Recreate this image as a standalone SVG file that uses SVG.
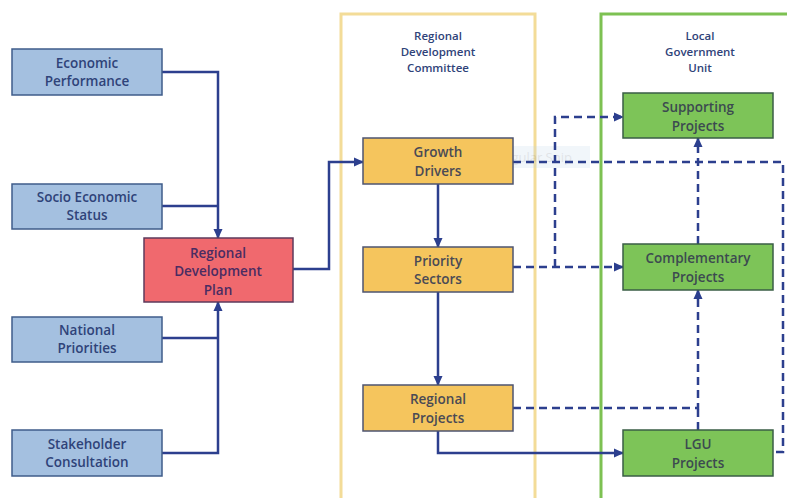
<svg xmlns="http://www.w3.org/2000/svg" width="787" height="498" viewBox="0 0 787 498">
  <style>
    .lbl { font-family: "Open Sans", "Liberation Sans", sans-serif; font-weight: 600; font-size: 13.5px; text-anchor: middle; }
    .title { font-family: "Open Sans", "Liberation Sans", sans-serif; font-weight: 600; font-size: 11.5px; text-anchor: middle; fill: #2F4379; }
    .input rect { fill: #A4C0E0; stroke: #3F5C8A; stroke-width: 1.5; }
    .input text { fill: #2F4379; }
    .plan rect { fill: #F0696E; stroke: #5E3A5C; stroke-width: 1.5; }
    .plan text { fill: #4A2C62; }
    .rdc rect { fill: #F5C55D; stroke: #4E5470; stroke-width: 1.5; }
    .rdc text { fill: #4A4A55; }
    .lgu rect { fill: #7DC458; stroke: #3A5E46; stroke-width: 1.5; }
    .lgu text { fill: #3C4A50; }
    .solid { fill: none; stroke: #2C3F8E; stroke-width: 2.5; }
    .dash { fill: none; stroke: #2C3F8E; stroke-width: 2.5; stroke-dasharray: 8 5; }
  </style>
  <defs>
    <marker id="arrow" markerUnits="userSpaceOnUse" markerWidth="10" markerHeight="10" viewBox="0 0 10 10" refX="9" refY="5" orient="auto">
      <path d="M0,0.5 L10,5 L0,9.5 Z" fill="#2C3F8E"/>
    </marker>
  </defs>

  <rect width="787" height="498" fill="#FFFFFF"/>

  <!-- swimlane containers -->
  <g id="lane-rdc">
    <rect x="341" y="14" width="194" height="500" fill="none" stroke="#F3DC98" stroke-width="3"/>
    <text class="title" x="438" y="40">Regional</text>
    <text class="title" x="438" y="56">Development</text>
    <text class="title" x="438" y="72">Committee</text>
  </g>
  <g id="lane-lgu">
    <rect x="601" y="14" width="200" height="500" fill="none" stroke="#7DC152" stroke-width="3"/>
    <text class="title" x="700" y="40">Local</text>
    <text class="title" x="700" y="56">Government</text>
    <text class="title" x="700" y="72">Unit</text>
  </g>

  <!-- faint translucent tooltip band across the growth row -->
  <g id="snip-tooltip" opacity="0.2">
    <rect x="395" y="146" width="195" height="22" fill="#BBD3EA"/>
    <text x="470" y="162" font-family="Open Sans, Liberation Sans, sans-serif" font-size="13" fill="#6A7A8A">Rectangular Snip</text>
  </g>

  <!-- connectors -->
  <g id="connectors">
    <path class="solid" d="M162,72 H218 V238" marker-end="url(#arrow)"/>
    <path class="solid" d="M162,206 H218"/>
    <path class="solid" d="M162,453 H218 V302" marker-end="url(#arrow)"/>
    <path class="solid" d="M162,338 H218"/>
    <path class="solid" d="M293,269 H329 V162 H363" marker-end="url(#arrow)"/>
    <path class="solid" d="M438,184 V247" marker-end="url(#arrow)"/>
    <path class="solid" d="M438,292 V385" marker-end="url(#arrow)"/>
    <path class="solid" d="M438,431 V453 H623" marker-end="url(#arrow)"/>

    <path class="dash" d="M513,162 H783 V452 H773"/>
    <path class="dash" d="M513,267 H623" marker-end="url(#arrow)"/>
    <path class="dash" d="M555,267 V117 H623" marker-end="url(#arrow)"/>
    <path class="dash" d="M513,408 H698 V290" marker-end="url(#arrow)"/>
    <path class="dash" d="M698,430 V408"/>
    <path class="dash" d="M698,244 V138" marker-end="url(#arrow)"/>
  </g>

  <!-- inputs -->
  <g id="economic-performance" class="input">
    <rect x="12" y="49" width="150" height="46"/>
    <text class="lbl" x="87" y="68">Economic</text>
    <text class="lbl" x="87" y="86">Performance</text>
  </g>
  <g id="socio-economic-status" class="input">
    <rect x="12" y="184" width="150" height="45"/>
    <text class="lbl" x="87" y="202">Socio Economic</text>
    <text class="lbl" x="87" y="220">Status</text>
  </g>
  <g id="national-priorities" class="input">
    <rect x="12" y="317" width="150" height="45"/>
    <text class="lbl" x="87" y="335">National</text>
    <text class="lbl" x="87" y="353">Priorities</text>
  </g>
  <g id="stakeholder-consultation" class="input">
    <rect x="12" y="430" width="150" height="46"/>
    <text class="lbl" x="87" y="449">Stakeholder</text>
    <text class="lbl" x="87" y="467">Consultation</text>
  </g>

  <g id="regional-development-plan" class="plan">
    <rect x="144" y="238" width="149" height="64"/>
    <text class="lbl" x="218" y="258">Regional</text>
    <text class="lbl" x="218" y="276">Development</text>
    <text class="lbl" x="218" y="295">Plan</text>
  </g>

  <!-- committee nodes -->
  <g id="growth-drivers" class="rdc">
    <rect x="363" y="138" width="150" height="46"/>
    <text class="lbl" x="438" y="157">Growth</text>
    <text class="lbl" x="438" y="176">Drivers</text>
  </g>
  <g id="priority-sectors" class="rdc">
    <rect x="363" y="247" width="150" height="45"/>
    <text class="lbl" x="438" y="266">Priority</text>
    <text class="lbl" x="438" y="284">Sectors</text>
  </g>
  <g id="regional-projects" class="rdc">
    <rect x="363" y="385" width="150" height="46"/>
    <text class="lbl" x="438" y="404">Regional</text>
    <text class="lbl" x="438" y="423">Projects</text>
  </g>

  <!-- LGU nodes -->
  <g id="supporting-projects" class="lgu">
    <rect x="623" y="93" width="150" height="45"/>
    <text class="lbl" x="698" y="112">Supporting</text>
    <text class="lbl" x="698" y="131">Projects</text>
  </g>
  <g id="complementary-projects" class="lgu">
    <rect x="623" y="244" width="150" height="46"/>
    <text class="lbl" x="698" y="263">Complementary</text>
    <text class="lbl" x="698" y="282">Projects</text>
  </g>
  <g id="lgu-projects" class="lgu">
    <rect x="623" y="430" width="150" height="46"/>
    <text class="lbl" x="698" y="449">LGU</text>
    <text class="lbl" x="698" y="468">Projects</text>
  </g>
</svg>
